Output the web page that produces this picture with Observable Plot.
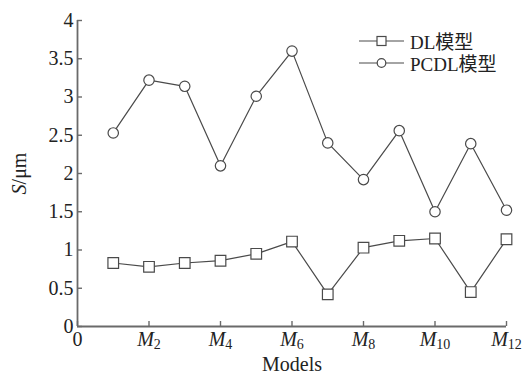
<!DOCTYPE html>
<html><head><meta charset="utf-8">
<script src="https://cdn.jsdelivr.net/npm/d3@7"></script>
<script src="https://cdn.jsdelivr.net/npm/@observablehq/plot@0.6"></script>
<style>
body{margin:0;background:#fff;}
#wrap{position:relative;width:525px;height:376px;}
#legend{position:absolute;left:358px;top:30px;font-size:19px;color:#222;font-family:'Liberation Serif';}
#legend div{display:flex;align-items:center;height:22px;line-height:19px;}
#legend span{line-height:19px;}
#legend svg{margin-right:5px;}
</style></head><body>
<div id="wrap"></div>
<script>
const models = [1,2,3,4,5,6,7,8,9,10,11,12];
const dlValues = [0.83,0.78,0.83,0.86,0.95,1.11,0.42,1.03,1.12,1.15,0.45,1.14];
const pcdlValues = [2.53,3.22,3.14,2.10,3.01,3.60,2.40,1.92,2.56,1.50,2.39,1.52];
const seriesNames = ["DL","PCDL"];
const seriesSuffix = "模型";
const xTicks = [0,2,4,6,8,10,12];
const xTickLabels = ["0","M2","M4","M6","M8","M10","M12"];
const yTicks = [0,0.5,1,1.5,2,2.5,3,3.5,4];
const yTickLabels = ["0","0.5","1","1.5","2","2.5","3","3.5","4"];

const dl = models.map((m,i)=>({x:m,y:dlValues[i]}));
const pcdl = models.map((m,i)=>({x:m,y:pcdlValues[i]}));
const lineColor = "#4a4a4a", axisColor = "#6a6a6a";

const plot = Plot.plot({
  width:525, height:376,
  marginLeft:77, marginRight:19, marginTop:20, marginBottom:50,
  style:{fontSize:"20px", color:"#222", background:"#fff"},
  x:{domain:[0,12]},
  y:{domain:[0,4]},
  marks:[
    Plot.ruleX([0],{stroke:axisColor,strokeWidth:1.8}),
    Plot.ruleY([0],{stroke:axisColor,strokeWidth:1.8}),
    Plot.axisX({ticks:xTicks, tickFormat:(d)=>xTickLabels[xTicks.indexOf(d)], tickSize:-5, tickPadding:10, stroke:axisColor, strokeWidth:1.4, fontSize:20, label:"Models", labelAnchor:"center", labelOffset:44}),
    Plot.axisY({ticks:yTicks, tickFormat:(d)=>yTickLabels[yTicks.indexOf(d)], tickSize:-5, tickPadding:9, stroke:axisColor, strokeWidth:1.4, fontSize:20, label:"S/μm", labelAnchor:"center", labelOffset:66}),
    Plot.line(dl,{x:"x",y:"y",stroke:lineColor,strokeWidth:1.2}),
    Plot.line(pcdl,{x:"x",y:"y",stroke:lineColor,strokeWidth:1.2}),
    Plot.dot(dl,{x:"x",y:"y",symbol:"square",r:6,stroke:lineColor,fill:"white",strokeWidth:1.2}),
    Plot.dot(pcdl,{x:"x",y:"y",symbol:"circle",r:5.2,stroke:lineColor,fill:"white",strokeWidth:1.2})
  ]
});

// serif font, subscript tick labels, italic S in y label, strip arrows
d3.select(plot).selectAll("text").each(function(){
  const t = d3.select(this);
  t.style("font-family","'Liberation Serif'");
  let tx = this.textContent.replace(/\s*[→↑←↓]\s*/g,"");
  const m = /^M(\d+)$/.exec(tx);
  if(m){
    t.text(null);
    t.append("tspan").attr("font-style","italic").text("M");
    t.append("tspan").attr("font-size","14px").attr("dy","3").text(m[1]);
  } else if(tx.startsWith("S/")){
    t.text(null);
    t.append("tspan").attr("font-style","italic").text("S");
    t.append("tspan").text("/μm");
  } else if(tx !== this.textContent){
    t.text(tx);
  }
});
document.getElementById("wrap").appendChild(plot);

// legend
const leg = document.createElement("div");
leg.id="legend";
["square","circle"].forEach((s,i)=>{
  const row=document.createElement("div");
  const sym = s==="square"
    ? '<rect x="19" y="5.5" width="9" height="9" fill="white" stroke="'+lineColor+'" stroke-width="1.2"/>'
    : '<circle cx="23.5" cy="10" r="4.3" fill="white" stroke="'+lineColor+'" stroke-width="1.2"/>';
  row.innerHTML='<svg width="47" height="20"><line x1="1" x2="46" y1="10" y2="10" stroke="'+lineColor+'" stroke-width="1.2"/>'+sym+'</svg><span>'+seriesNames[i]+'<span style="font-family:\'Noto Sans CJK SC\'">'+seriesSuffix+'</span></span>';
  leg.appendChild(row);
});
document.getElementById("wrap").appendChild(leg);
</script>
</body></html>
